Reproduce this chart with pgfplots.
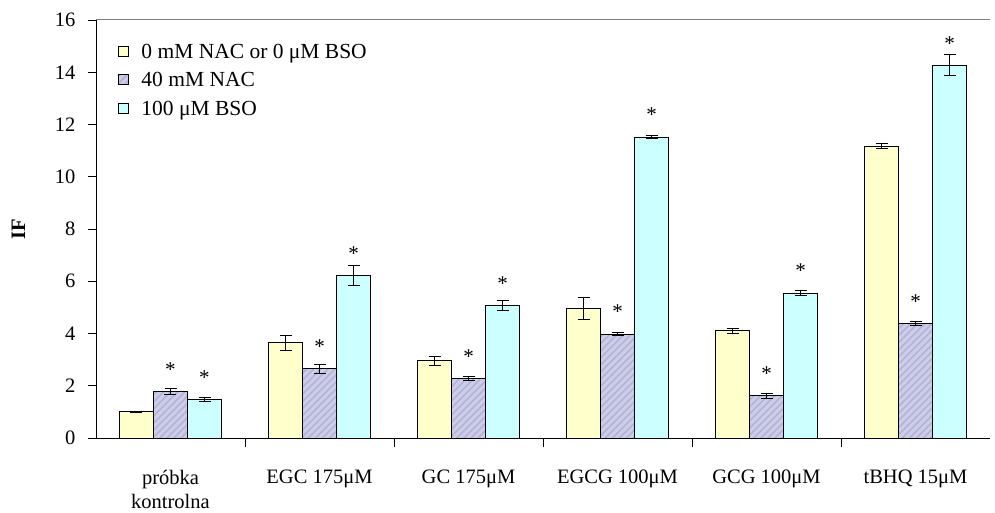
\documentclass[border=0pt]{standalone}
\usepackage{pgfplots}
\pgfplotsset{compat=1.18}
\usepackage{pgfplotstable}
\usetikzlibrary{patterns.meta}
\usepackage{fontspec}
\setmainfont{Liberation Serif}

\definecolor{cy}{HTML}{FFFFCC}
\definecolor{cp}{HTML}{CCCCF0}
\definecolor{cc}{HTML}{CCFFFF}
\definecolor{hatch}{HTML}{B4B4C8}

\pgfplotsset{sqlegend/.style={legend image code/.code={\draw[##1] (0pt,-5pt) rectangle (10pt,5pt); \path (21pt,0pt);}}}

\pgfplotstableread{
x y e
0 1.00 0.02
1 3.65 0.28
2 2.95 0.19
3 4.95 0.42
4 4.10 0.10
5 11.17 0.10
}\datayel

\pgfplotstableread{
x y e
0 1.78 0.12
1 2.65 0.17
2 2.28 0.08
3 3.98 0.05
4 1.62 0.10
5 4.37 0.08
}\datapur

\pgfplotstableread{
x y e
0 1.48 0.08
1 6.22 0.40
2 5.08 0.18
3 11.52 0.06
4 5.55 0.10
5 14.27 0.40
}\datacya

\begin{document}
\begin{tikzpicture}[font=\fontsize{20.5}{24}\selectfont]
\path[use as bounding box] (-96pt,-75pt) rectangle (899pt,438pt);
\begin{axis}[
  scale only axis, width=894pt, height=418pt,
  xmin=-0.5, xmax=5.5, ymin=0, ymax=16,
  ybar,
  axis x line*=bottom, axis y line*=left,
  axis line style={black, line width=0.9pt},
  ytick={0,2,...,16},
  tick align=outside,
  major tick length=8pt, minor tick length=9pt,
  xtick={0,...,5},
  minor xtick={0.5,1.5,2.5,3.5,4.5},
  major x tick style={draw=none},
  tick style={black, line width=0.9pt},
  xticklabels={{próbka\\kontrolna},{EGC 175μM},{GC 175μM},{EGCG 100μM},{GCG 100μM},{tBHQ 15μM}},
  xticklabel style={align=center, font=\fontsize{20.5}{24.5}\selectfont, anchor=north, yshift=-20.5pt},
  /pgf/number format/assume math mode=true,
  yticklabel style={font=\fontsize{20.5}{24}\selectfont, xshift=-9pt},
  extra y ticks={16}, extra y tick labels={},
  extra y tick style={grid=major, major grid style={gray, line width=1pt}},
  ylabel={IF},
  ylabel style={font=\fontsize{20.5}{24}\selectfont\bfseries, at={(axis description cs:-0.0867,0.5)}, anchor=center},
  legend style={at={(0.0205,0.955)}, anchor=north west, draw=none, fill=none,
    font=\fontsize{21.5}{25}\selectfont, row sep=8pt,
    cells={anchor=west, inner sep=0pt, text height=15pt, text depth=5pt}},
  legend cell align=left,
  bar width=34pt,
  error bars/error bar style={black, line width=0.9pt},
  error bars/error mark options={rotate=90, mark size=6pt, line width=0.9pt, black},
]
\addplot[fill=cy, draw=black, line width=0.9pt, bar shift=-34pt, sqlegend,
  error bars/.cd, y dir=both, y explicit]
  table[x=x, y=y, y error=e] {\datayel};
\addlegendentry{0 mM NAC or 0 μM BSO}
\addplot[fill=cp, draw=black, line width=0.9pt, bar shift=0pt, sqlegend,
  postaction={pattern={Lines[angle=45, distance=5pt, line width=1.6pt]}, pattern color=hatch},
  nodes near coords={*},
  every node near coord/.append style={font=\fontsize{21}{24}\selectfont, anchor=center, yshift=22pt},
  error bars/.cd, y dir=both, y explicit]
  table[x=x, y=y, y error=e] {\datapur};
\addlegendentry{40 mM NAC}
\addplot[fill=cc, draw=black, line width=0.9pt, bar shift=34pt, sqlegend,
  nodes near coords={*},
  every node near coord/.append style={font=\fontsize{21}{24}\selectfont, anchor=center, yshift=22pt},
  error bars/.cd, y dir=both, y explicit]
  table[x=x, y=y, y error=e] {\datacya};
\addlegendentry{100 μM BSO}
\end{axis}
\end{tikzpicture}
\end{document}
